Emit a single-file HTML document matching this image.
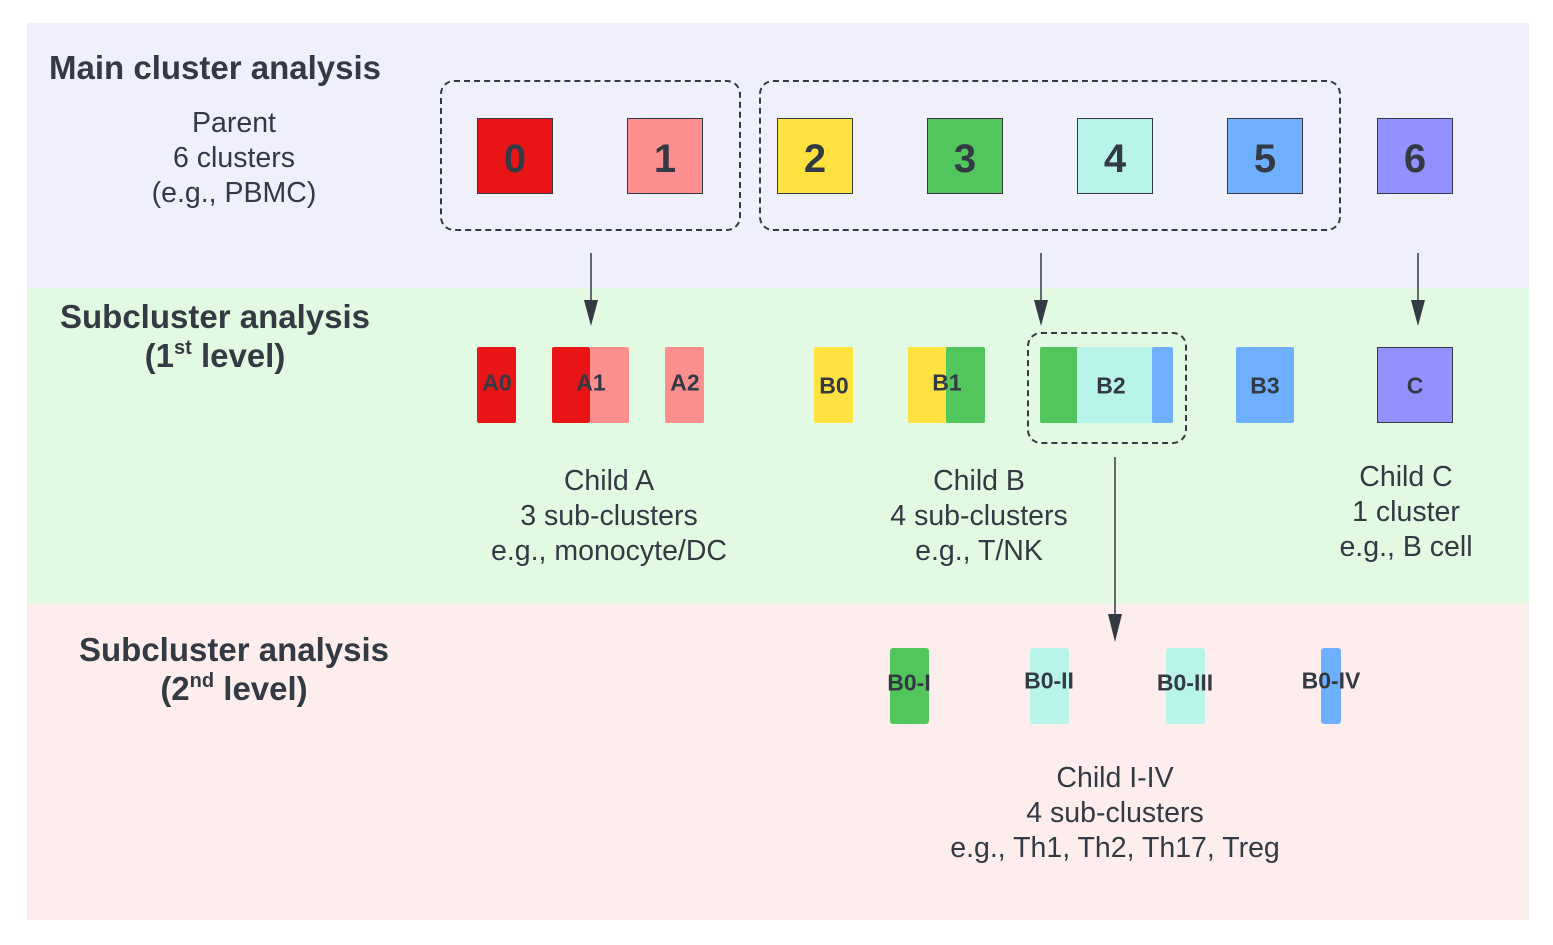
<!DOCTYPE html>
<html><head><meta charset="utf-8"><style>
body{margin:0;width:1553px;height:945px;background:#fff;position:relative;overflow:hidden;font-family:"Liberation Sans",sans-serif;color:#333a44}
div{position:absolute;box-sizing:border-box}
.band{left:27px;width:1502px}
.big{width:76px;height:76px;top:118px;border:1.5px solid #333a44;font-weight:bold;font-size:40px;display:flex;align-items:center;justify-content:center;padding-top:6px}
.dash{border:2px dashed #333a44;border-radius:14px}
.seg{top:347px;height:76px;border-radius:2px}
.lbl{font-weight:bold;font-size:23px;transform:translate(-50%,-50%);white-space:nowrap}
.txt{font-size:28.5px;text-align:center;line-height:35px;transform:translateX(-50%);white-space:nowrap}
.ttl{font-weight:bold;font-size:33px;text-align:center;line-height:39px;transform:translateX(-50%);white-space:nowrap}
sup{font-size:20px;line-height:0;vertical-align:13px}
.s2{top:648px;height:76px;border-radius:3px}
</style></head><body>
<div class="band" style="top:23px;height:265px;background:#f0f0fc"></div>
<div class="band" style="top:288px;height:316px;background:#e2fae2"></div>
<div class="band" style="top:604px;height:316px;background:#fdeeed"></div>

<div style="left:49px;top:49px;font-weight:bold;font-size:33px">Main cluster analysis</div>
<div class="txt" style="left:234px;top:106px">Parent<br>6 clusters<br>(e.g., PBMC)</div>

<div class="dash" style="left:440px;top:80px;width:301px;height:151px"></div>
<div class="dash" style="left:759px;top:80px;width:582px;height:151px"></div>

<div class="big" style="left:477px;background:#e81416">0</div>
<div class="big" style="left:627px;background:#ff8e8e">1</div>
<div class="big" style="left:777px;background:#ffe23f">2</div>
<div class="big" style="left:927px;background:#52c55c">3</div>
<div class="big" style="left:1077px;background:#b8f4ea">4</div>
<div class="big" style="left:1227px;background:#6eb0ff">5</div>
<div class="big" style="left:1377px;background:#9191ff">6</div>

<svg style="position:absolute;left:0;top:0" width="1553" height="945">
<g stroke="#333a44" stroke-width="1.5">
<line x1="591" y1="253" x2="591" y2="312"/><path d="M584,300 L598,300 L591,326 Z" fill="#333a44" stroke="none"/>
<line x1="1041" y1="253" x2="1041" y2="312"/><path d="M1034,300 L1048,300 L1041,326 Z" fill="#333a44" stroke="none"/>
<line x1="1418" y1="253" x2="1418" y2="312"/><path d="M1411,300 L1425,300 L1418,326 Z" fill="#333a44" stroke="none"/>
<line x1="1115" y1="457" x2="1115" y2="625"/><path d="M1108,614 L1122,614 L1115,642 Z" fill="#333a44" stroke="none"/>
</g></svg>

<div class="ttl" style="left:215px;top:297px">Subcluster analysis<br>(1<sup>st</sup> level)</div>

<div class="seg" style="left:477px;width:39px;background:#e81416"></div>
<div class="seg" style="left:552px;width:38px;background:#e81416"></div>
<div class="seg" style="left:590px;width:39px;background:#ff8e8e"></div>
<div class="seg" style="left:665px;width:39px;background:#ff8e8e"></div>
<div class="seg" style="left:814px;width:39px;background:#ffe23f"></div>
<div class="seg" style="left:908px;width:39px;background:#ffe23f"></div>
<div class="seg" style="left:946px;width:39px;background:#52c55c"></div>
<div class="dash" style="left:1027px;top:332px;width:160px;height:112px"></div>
<div class="seg" style="left:1040px;width:38px;background:#52c55c"></div>
<div class="seg" style="left:1077px;width:76px;background:#b8f4ea"></div>
<div class="seg" style="left:1152px;width:21px;background:#6eb0ff"></div>
<div class="seg" style="left:1236px;width:58px;background:#6eb0ff"></div>
<div class="seg" style="left:1377px;width:76px;background:#9191ff;border:1.5px solid #333a44;border-radius:0"></div>

<div class="lbl" style="left:497px;top:383px">A0</div>
<div class="lbl" style="left:591px;top:383px">A1</div>
<div class="lbl" style="left:685px;top:383px">A2</div>
<div class="lbl" style="left:834px;top:386px">B0</div>
<div class="lbl" style="left:947px;top:383px">B1</div>
<div class="lbl" style="left:1111px;top:386px">B2</div>
<div class="lbl" style="left:1265px;top:386px">B3</div>
<div class="lbl" style="left:1415px;top:386px">C</div>

<div class="txt" style="left:609px;top:464px">Child A<br>3 sub-clusters<br>e.g., monocyte/DC</div>
<div class="txt" style="left:979px;top:464px">Child B<br>4 sub-clusters<br>e.g., T/NK</div>
<div class="txt" style="left:1406px;top:460px">Child C<br>1 cluster<br>e.g., B cell</div>

<div class="ttl" style="left:234px;top:630px">Subcluster analysis<br>(2<sup>nd</sup> level)</div>

<div class="s2" style="left:890px;width:39px;background:#52c55c"></div>
<div class="s2" style="left:1030px;width:39px;background:#b8f4ea"></div>
<div class="s2" style="left:1166px;width:39px;background:#b8f4ea"></div>
<div class="s2" style="left:1321px;width:20px;background:#6eb0ff"></div>
<div class="lbl" style="left:909px;top:683px">B0-I</div>
<div class="lbl" style="left:1049px;top:681px">B0-II</div>
<div class="lbl" style="left:1185px;top:683px">B0-III</div>
<div class="lbl" style="left:1331px;top:681px">B0-IV</div>

<div class="txt" style="left:1115px;top:761px">Child I-IV<br>4 sub-clusters<br>e.g., Th1, Th2, Th17, Treg</div>
</body></html>
